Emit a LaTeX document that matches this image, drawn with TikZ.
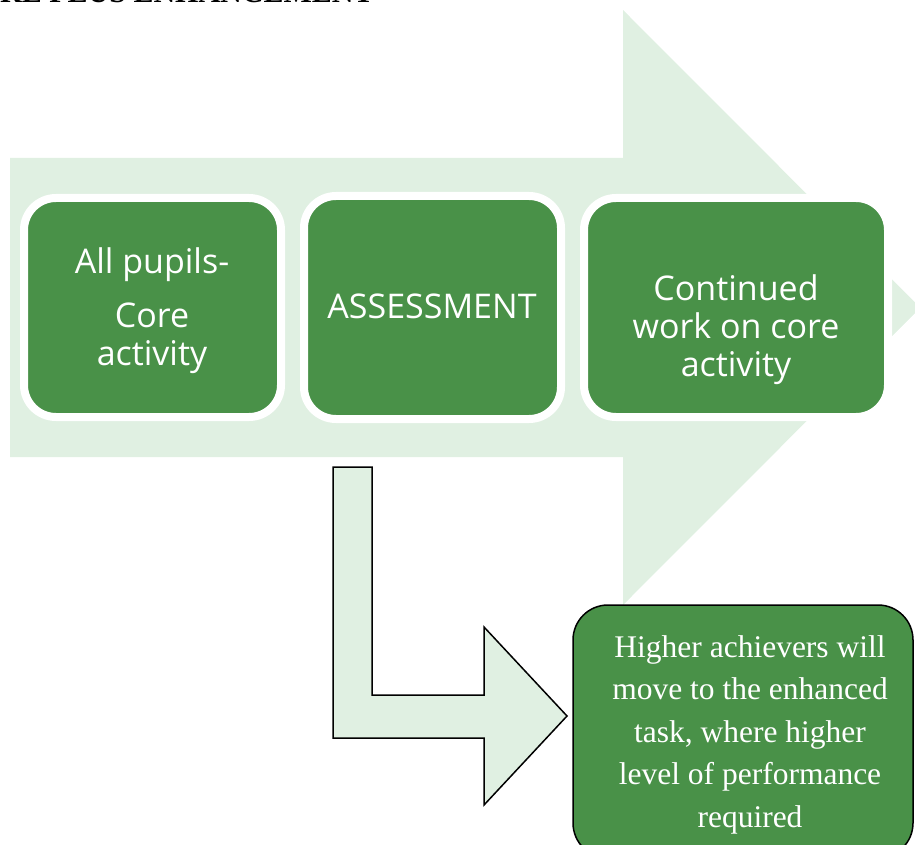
\documentclass[tikz,border=0pt]{standalone}
\usepackage{fontspec}
\setmainfont{Liberation Serif}
\newfontfamily\boxfont{Open Sans}
\definecolor{leaf}{RGB}{73,145,72}
\definecolor{pale}{RGB}{224,240,226}
\begin{document}
\begin{tikzpicture}[x=1pt,y=-1pt,
  greenbox/.style={draw=white, line width=8pt, fill=leaf, rounded corners=32pt, inner sep=0pt},
  sanstext/.style={anchor=base, inner sep=0pt, text=white, font=\boxfont\fontsize{34}{40}\selectfont},
  serifline/.style={anchor=base, inner sep=0pt, text=white, font=\fontsize{31.5}{40}\selectfont},
  shapeline/.style={draw=black, line width=1.5pt, line join=miter}]
\useasboundingbox (0,0) rectangle (915,845);
\clip (0,0) rectangle (915,845);
% title (cut off at the top)
\node[anchor=base west, inner sep=0pt, font=\bfseries\fontsize{30}{36}\selectfont] (title) at (-45,3) {CORE PLUS ENHANCEMENT};
% big background arrow
\fill[pale] (10,158) -- (623,158) -- (623,10) -- (920,307.5) -- (623,605) -- (623,457) -- (10,457) -- cycle;
% small chevron
\fill[pale] (892,280) -- (920,308) -- (892,336) -- cycle;
% boxes
\node[greenbox, minimum width=257pt, minimum height=219pt] (box1) at (152.5,307.5) {};
\node[greenbox, minimum width=257pt, minimum height=223pt] (box2) at (432.5,307.5) {};
\node[greenbox, minimum width=304pt, minimum height=219pt] (box3) at (736,307.5) {};
\node[sanstext] (t1a) at (152,273) {All pupils-};
\node[sanstext] (t1b) at (152,327) {Core};
\node[sanstext] (t1c) at (152,365) {activity};
\node[sanstext] (t2) at (432,318) {ASSESSMENT};
\node[sanstext] (t3a) at (736,300) {Continued};
\node[sanstext] (t3b) at (736,338) {work on core};
\node[sanstext] (t3c) at (736,376) {activity};
% bent arrow
\filldraw[shapeline, fill=pale] (333,467) -- (372,467) -- (372,695) -- (484,695) -- (484,627) -- (567,716) -- (484,805) -- (484,738) -- (333,738) -- cycle;
% bottom box
\node[draw=black, line width=1.5pt, fill=leaf, rounded corners=35pt, inner sep=0pt, minimum width=340pt, minimum height=253pt] (task) at (743,731.5) {};
\node[serifline] (b1) at (750,657) {Higher achievers will};
\node[serifline] (b2) at (750,699) {move to the enhanced};
\node[serifline] (b3) at (750,742) {task, where higher};
\node[serifline] (b4) at (750,784) {level of performance};
\node[serifline] (b5) at (750,827) {required};
\end{tikzpicture}
\end{document}
